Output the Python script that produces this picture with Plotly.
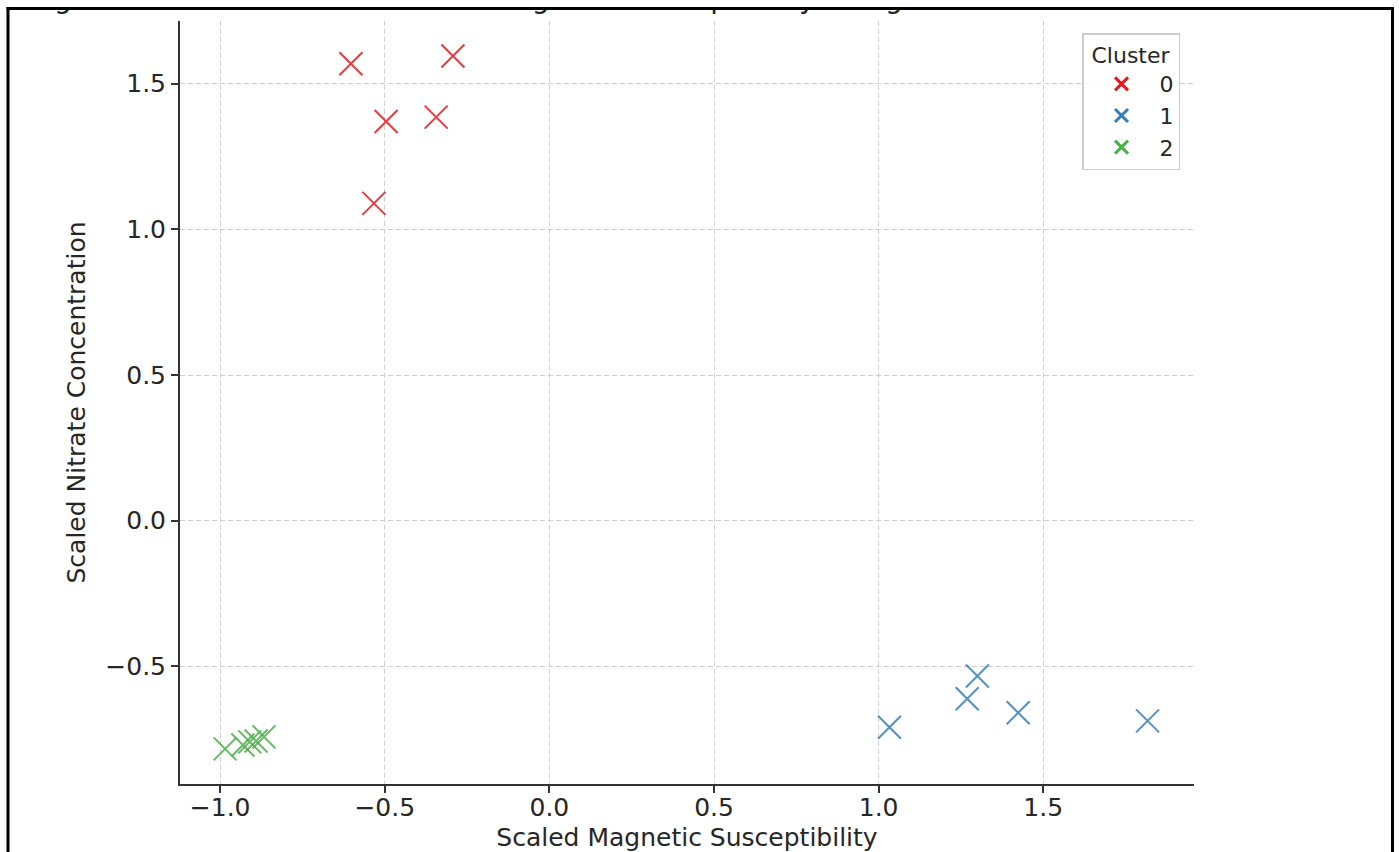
import plotly.graph_objects as go

W, H = 1399, 852

# ---------------- data ----------------
clusters = ["0", "1", "2"]
x_c0 = [-0.603, -0.293, -0.496, -0.344, -0.533]
y_c0 = [1.568, 1.595, 1.370, 1.385, 1.089]
x_c1 = [1.033, 1.269, 1.300, 1.424, 1.817]
y_c1 = [-0.709, -0.611, -0.533, -0.659, -0.687]
x_c2 = [-0.985, -0.931, -0.910, -0.891, -0.867]
y_c2 = [-0.783, -0.770, -0.759, -0.756, -0.742]
colors = ["#e41a1c", "#377eb8", "#4daf4a"]

title_text = "Clustering of Nitrate Concentration and Magnetic Susceptibility Using K-Means"
x_title = "Scaled Magnetic Susceptibility"
y_title = "Scaled Nitrate Concentration"
x_ticks = [-1.0, -0.5, 0.0, 0.5, 1.0, 1.5]
y_ticks = [-0.5, 0.0, 0.5, 1.0, 1.5]
x_range = [-1.122, 1.958]
y_range = [-0.9036, 1.715]

FONT = "DejaVu Sans"
TXT = "#262626"
LINE = "#333333"

fig = go.Figure()

xs = [x_c0, x_c1, x_c2]
ys = [y_c0, y_c1, y_c2]
for name, xv, yv, col in zip(clusters, xs, ys, colors):
    fig.add_trace(go.Scatter(
        x=xv, y=yv, mode="markers", name=name, showlegend=False,
        marker=dict(symbol="x-thin", size=23, color=col, opacity=0.85,
                    line=dict(width=2, color=col)),
        hoverinfo="x+y+name",
    ))
# legend entries
for name, col in zip(clusters, colors):
    fig.add_trace(go.Scatter(
        x=[None], y=[None], mode="markers", name=name, showlegend=True,
        marker=dict(symbol="x-thin", size=13, color=col,
                    line=dict(width=3, color=col)),
    ))

# title (cropped at the top of the picture, only descenders show)
fig.add_trace(go.Scatter(
    x=[-71], y=[H - 1], mode="text", text=[title_text],
    textposition="middle right", showlegend=False, hoverinfo="skip",
    textfont=dict(family=FONT, size=28, color=TXT),
    cliponaxis=True, xaxis="x2", yaxis="y2",
))

axis_common = dict(
    showline=True, linecolor=LINE, linewidth=2,
    ticks="outside", ticklen=7, tickwidth=1.5, tickcolor=LINE,
    showgrid=True, gridcolor="#cfcfcf", gridwidth=1, griddash="5px,3px",
    zeroline=False, mirror=False,
    tickfont=dict(family=FONT, size=25, color=TXT),
    tickformat=".1f", automargin=False,
)

border = dict(color="black", width=3)
fig.update_layout(
    width=W, height=H,
    margin=dict(l=0, r=0, t=0, b=0),
    paper_bgcolor="white", plot_bgcolor="rgba(0,0,0,0)",
    font=dict(family=FONT, size=25, color=TXT),
    xaxis=dict(domain=[180 / W, 1194 / W], range=x_range, tickvals=x_ticks,
               ticklabelstandoff=-7,
               title=dict(text=x_title, standoff=11, font=dict(size=25, color=TXT)),
               **axis_common),
    yaxis=dict(domain=[(H - 784) / H, (H - 21) / H], range=y_range, tickvals=y_ticks,
               title=dict(text=y_title, standoff=13, font=dict(size=25, color=TXT)),
               **axis_common),
    xaxis2=dict(domain=[0, 1], range=[0, W], visible=False, fixedrange=True,
                anchor="y2"),
    yaxis2=dict(domain=[0, (H - 10) / H], range=[0, H - 10], visible=False,
                fixedrange=True, anchor="x2"),
    legend=dict(
        x=1082 / W, y=(H - 33) / H, xanchor="left", yanchor="top",
        bgcolor="rgba(255,255,255,0.85)", bordercolor="#cccccc", borderwidth=1.5,
        font=dict(family=FONT, size=22, color=TXT),
        title=dict(text="Cluster", side="top center",
                   font=dict(family=FONT, size=22, color=TXT)),
        itemwidth=66,
    ),
    shapes=[
        dict(type="line", xref="paper", yref="paper", x0=6.5 / W, x1=1393.5 / W,
             y0=(H - 8.5) / H, y1=(H - 8.5) / H, line=border, layer="above"),
        dict(type="line", xref="paper", yref="paper", x0=8 / W, x1=8 / W,
             y0=0, y1=(H - 7) / H, line=border, layer="above"),
        dict(type="line", xref="paper", yref="paper", x0=1392.5 / W, x1=1392.5 / W,
             y0=0, y1=(H - 7) / H, line=border, layer="above"),
    ],
    showlegend=True,
)

fig.write_html(
    "out.html",
    config={"displayModeBar": False},
    post_script="document.documentElement.style.overflow='hidden';"
                "document.body.style.overflow='hidden';"
                "document.body.style.margin='0';",
)
